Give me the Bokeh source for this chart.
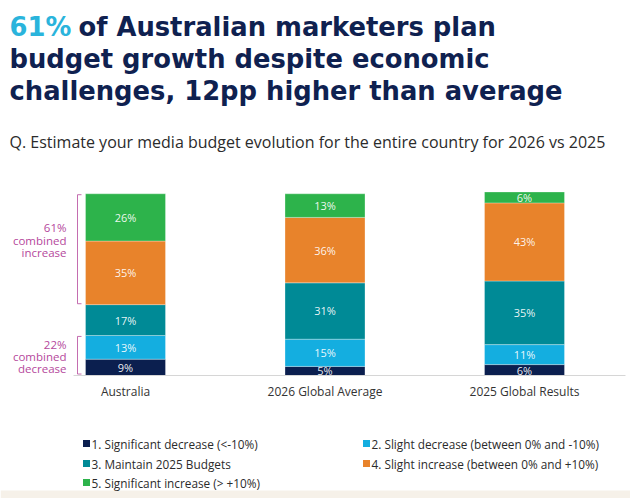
from bokeh.plotting import figure
from bokeh.models import Range1d, ColumnDataSource
from bokeh.core.properties import value
from bokeh.embed import file_html
from bokeh.resources import INLINE

# ---------------- data ----------------
categories = ["Australia", "2026 Global Average", "2025 Global Results"]
series_names = [
    "1. Significant decrease (<-10%)",
    "2. Slight decrease (between 0% and -10%)",
    "3. Maintain 2025 Budgets",
    "4. Slight increase (between 0% and +10%)",
    "5. Significant increase (> +10%)",
]
sig_decrease = [9, 5, 6]
slight_decrease = [13, 15, 11]
maintain = [17, 31, 35]
slight_increase = [35, 36, 43]
sig_increase = [26, 13, 6]
series_values = [sig_decrease, slight_decrease, maintain, slight_increase, sig_increase]
colors = ["#0b1f4f", "#14aee0", "#008a96", "#e8832b", "#2db34b"]

title_lines = ["of Australian marketers plan",
               "budget growth despite economic",
               "challenges, 12pp higher than average"]
title_highlight = "61%"
subtitle = "Q. Estimate your media budget evolution for the entire country for 2026 vs 2025"

W, H = 630, 498
# pixel layout -> data mapping
AX, BX = 25.25, 199.5          # x_px = AX + BX * xv
Y0, KY = 375.0, 1.817          # y_px = Y0 - KY * pct

def X(px):
    return (px - AX) / BX

def Y(py):
    return (Y0 - py) / KY

FONT = "Open Sans"
TFONT = "DejaVu Sans"
NAVY = "#0f2150"
MAG = "#b5489c"

p = figure(width=W, height=H, output_backend="svg", toolbar_location=None,
           x_range=Range1d(X(0), X(W)), y_range=Range1d(Y(H), Y(0)),
           min_border=0, outline_line_color=None)
p.axis.visible = False
p.grid.visible = False
p.background_fill_color = "white"
p.border_fill_color = "white"

# beige band at bottom
p.quad(left=[X(0)], right=[X(W)], bottom=[Y(H)], top=[Y(490)],
       fill_color="#f6f1e9", line_color=None)

# stacked bars
xs = [i + 0.5 for i in range(len(categories))]
bw = 80 / BX
bottoms = [0] * len(categories)
for vals, col in zip(series_values, colors):
    tops = [b + v for b, v in zip(bottoms, vals)]
    src = ColumnDataSource(dict(x=xs, bottom=bottoms, top=tops,
                                mid=[(b + t) / 2 for b, t in zip(bottoms, tops)],
                                lab=[f"{v}%" for v in vals]))
    p.vbar(x="x", width=bw, bottom="bottom", top="top", source=src,
           fill_color=col, line_color="white", line_width=0.6, line_alpha=0.5)
    p.text(x="x", y="mid", text="lab", source=src, text_align="center",
           text_baseline="middle", text_color="white", text_alpha=0.92,
           text_font=value(FONT), text_font_size="11px")
    bottoms = tops

# baseline
p.segment(x0=[X(73)], x1=[X(625)], y0=[0], y1=[0], line_color="#d6d6d6", line_width=1)

# category labels
p.text(x=xs, y=[Y(391)] * 3, text=categories, text_align="center",
       text_baseline="middle", text_color="#333333", text_font=value(FONT),
       text_font_size="12px")

# title
p.text(x=[X(9)], y=[Y(26)], text=[title_highlight], text_color="#2ab4dc",
       text_font=value(TFONT), text_font_style="bold", text_font_size="25.8px",
       text_baseline="alphabetic")
p.text(x=[X(78), X(9), X(9)], y=[Y(26), Y(58), Y(90)], text=title_lines,
       text_color=NAVY, text_font=value(TFONT), text_font_style="bold",
       text_font_size="25.8px", text_baseline="alphabetic")
# subtitle
p.text(x=[X(9)], y=[Y(141)], text=[subtitle], text_color="#2b2b2b",
       text_font=value(FONT), text_font_size="16px", text_baseline="alphabetic")

# brackets for Australia
inc_total = slight_increase[0] + sig_increase[0]
dec_total = sig_decrease[0] + slight_decrease[0]
inc_bottom = sig_decrease[0] + slight_decrease[0] + maintain[0]
inc_top = inc_bottom + inc_total
bx, tx = X(77), X(81)
p.multi_line(xs=[[tx, bx, bx, tx], [tx, bx, bx, tx]],
             ys=[[inc_top - 0.5, inc_top - 0.5, inc_bottom + 0.5, inc_bottom + 0.5],
                 [dec_total - 0.5, dec_total - 0.5, 0.8, 0.8]],
             line_color=MAG, line_width=1, line_alpha=0.8)
p.text(x=[X(66)] * 3, y=[Y(227), Y(239.5), Y(252)],
       text=[f"{inc_total}%", "combined", "increase"], text_align="right",
       text_baseline="middle", text_color=MAG, text_font=value(FONT),
       text_font_size="11.5px")
p.text(x=[X(66)] * 3, y=[Y(344), Y(356), Y(368)],
       text=[f"{dec_total}%", "combined", "decrease"], text_align="right",
       text_baseline="middle", text_color=MAG, text_font=value(FONT),
       text_font_size="11.5px")

# legend
leg_sq_x = [86, 366, 86, 366, 86]
leg_y = [443, 443, 463, 463, 482]
p.rect(x=[X(v) for v in leg_sq_x], y=[Y(v) for v in leg_y],
       width=7 / BX, height=7 / KY, fill_color=colors, line_color=None)
p.text(x=[X(v + 5) for v in leg_sq_x], y=[Y(v) for v in leg_y], text=series_names,
       text_baseline="middle", text_color="#2b2b2b", text_font=value(FONT),
       text_font_size="11.8px")

open("out.html", "w").write(file_html(p, INLINE))
